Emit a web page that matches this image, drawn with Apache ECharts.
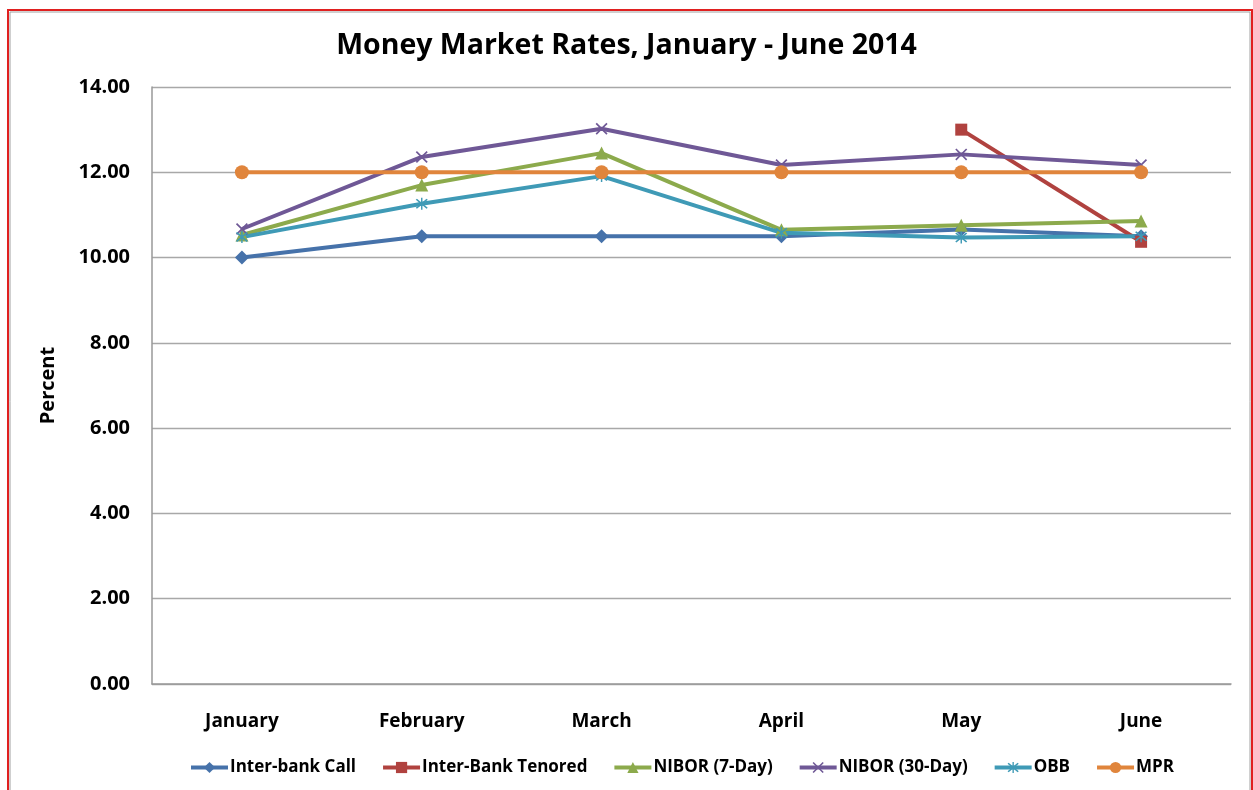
<!DOCTYPE html>
<html>
<head>
<meta charset="utf-8">
<script src="https://cdn.jsdelivr.net/npm/echarts@6/dist/echarts.min.js"></script>
<style>
html,body{margin:0;padding:0;background:#fff;}
#chart{width:1253px;height:790px;}
</style>
</head>
<body>
<div id="chart"></div>
<script>
var months = ['January','February','March','April','May','June'];
var interbankCall = [10.00, 10.50, 10.50, 10.50, 10.66, 10.50];
var interbankTenored = [null, null, null, null, 13.00, 10.37];
var nibor7 = [10.53, 11.70, 12.45, 10.65, 10.76, 10.86];
var nibor30 = [10.67, 12.36, 13.02, 12.17, 12.42, 12.17];
var obb = [10.48, 11.26, 11.91, 10.58, 10.47, 10.50];
var mpr = [12.00, 12.00, 12.00, 12.00, 12.00, 12.00];
var yTicks = [0, 2, 4, 6, 8, 10, 12, 14];

var xMark = 'path://M0,1L1,0L5,4L9,0L10,1L6,5L10,9L9,10L5,6L1,10L0,9L4,5Z';
var starMark = 'path://M0,1L1,0L5,4L9,0L10,1L6,5L10,9L9,10L5,6L1,10L0,9L4,5ZM4.4,-1L5.6,-1L5.6,11L4.4,11Z';

var font = '"Open Sans", sans-serif';

function mkSeries(name, data, color, symbol, size) {
    return {
        name: name,
        type: 'line',
        data: data,
        symbol: symbol,
        symbolSize: size,
        connectNulls: false,
        lineStyle: {color: color, width: 4},
        itemStyle: {color: color},
        emphasis: {disabled: true}
    };
}

var chart = echarts.init(document.getElementById('chart'));
chart.setOption({
    backgroundColor: '#fff',
    animation: false,
    title: {
        text: 'Money Market Rates, January - June 2014',
        left: 'center',
        top: 26,
        textStyle: {fontFamily: font, fontSize: 28.5, fontWeight: 'bold', color: '#000'}
    },
    graphic: [
        {type: 'rect', shape: {x: 8, y: 10, width: 1244, height: 800},
         style: {fill: 'none', stroke: '#e02020', lineWidth: 2}},
        {type: 'rect', shape: {x: 10, y: 12, width: 1240, height: 800},
         style: {fill: 'none', stroke: '#a0a0a0', lineWidth: 1}}
    ],
    legend: {
        bottom: 9,
        left: 184,
        itemWidth: 37,
        itemHeight: 14,
        itemGap: 25,
        lineStyle: {width: 4},
        textStyle: {fontFamily: font, fontSize: 17, fontWeight: 'bold', color: '#000', padding: [0, 0, 0, -3]},
        data: ['Inter-bank Call','Inter-Bank Tenored','NIBOR (7-Day)','NIBOR (30-Day)','OBB','MPR']
    },
    grid: {left: 152, right: 22, top: 87, bottom: 106},
    xAxis: {
        type: 'category',
        data: months,
        boundaryGap: true,
        axisLine: {lineStyle: {color: '#999', width: 1.5}},
        axisTick: {show: false},
        axisLabel: {fontFamily: font, fontSize: 19, fontWeight: 'bold', color: '#000', margin: 28}
    },
    yAxis: {
        type: 'value',
        min: yTicks[0],
        max: yTicks[yTicks.length - 1],
        interval: 2,
        name: 'Percent',
        nameLocation: 'middle',
        nameGap: 94,
        nameTextStyle: {fontFamily: font, fontSize: 20, fontWeight: 'bold', color: '#000'},
        axisLine: {show: true, lineStyle: {color: '#999', width: 1.5}},
        axisTick: {show: false},
        axisLabel: {fontFamily: font, fontSize: 20, fontWeight: 'bold', color: '#000', margin: 22,
            formatter: function (v) { return v.toFixed(2); }},
        splitLine: {lineStyle: {color: '#a8a8a8', width: 1.3}}
    },
    series: [
        mkSeries('Inter-bank Call', interbankCall, '#4672aa', 'diamond', 14),
        mkSeries('Inter-Bank Tenored', interbankTenored, '#b0423f', 'rect', 12),
        mkSeries('NIBOR (7-Day)', nibor7, '#8caa4c', 'triangle', 13),
        mkSeries('NIBOR (30-Day)', nibor30, '#6f5896', xMark, 12),
        mkSeries('OBB', obb, '#3f9ab6', starMark, 12),
        mkSeries('MPR', mpr, '#e0853c', 'circle', 14)
    ]
});
</script>
</body>
</html>
